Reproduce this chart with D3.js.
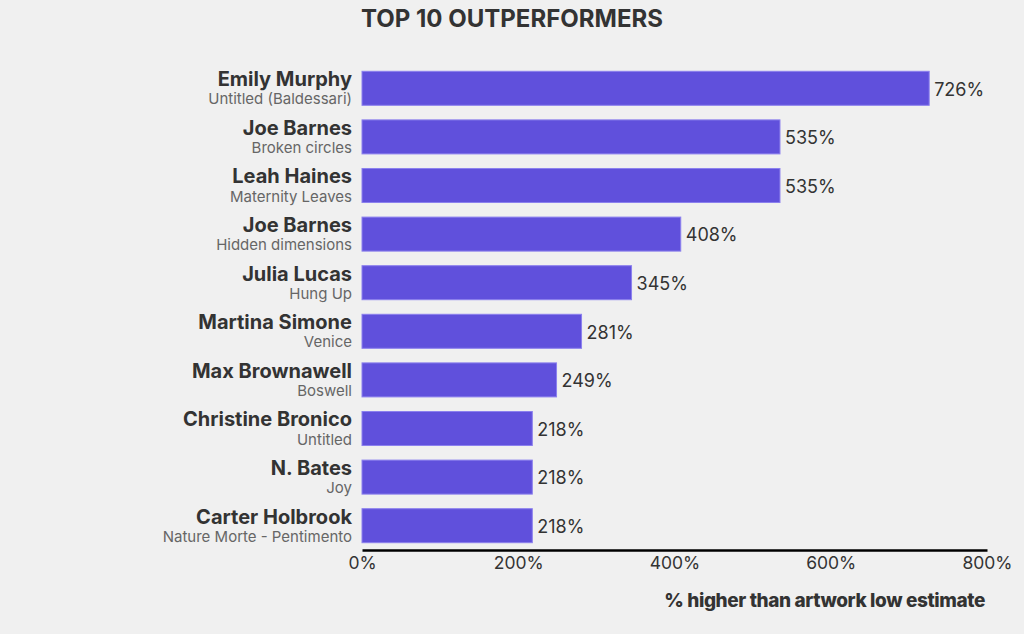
<!DOCTYPE html>
<html>
<head>
<meta charset="utf-8">
<script src="https://cdn.jsdelivr.net/npm/d3@7"></script>
<style>
  body { margin: 0; background: #f0f0f0; font-family: Inter, "Noto Sans", sans-serif; }
  svg { display: block; }
</style>
</head>
<body>
<svg id="chart" width="1024" height="634"></svg>
<script>
const artists = ["Emily Murphy", "Joe Barnes", "Leah Haines", "Joe Barnes", "Julia Lucas",
  "Martina Simone", "Max Brownawell", "Christine Bronico", "N. Bates", "Carter Holbrook"];
const artworks = ["Untitled (Baldessari)", "Broken circles", "Maternity Leaves", "Hidden dimensions",
  "Hung Up", "Venice", "Boswell", "Untitled", "Joy", "Nature Morte - Pentimento"];
const pctAbove = [726, 535, 535, 408, 345, 281, 249, 218, 218, 218];
const xTicks = [0, 200, 400, 600, 800];

const svg = d3.select("#chart");
const margin = { left: 362, right: 37, top: 64, bottom: 84 };
const W = 1024, H = 634;

const rows = pctAbove.map((v, i) => ({ id: i, name: artists[i], work: artworks[i], value: v }));

const x = d3.scaleLinear().domain([0, 800]).range([margin.left, W - margin.right]);
const y = d3.scaleBand()
  .domain(rows.map((d) => d.id))
  .range([margin.top, H - margin.bottom])
  .paddingInner(0.3)
  .paddingOuter(0.15);

svg.append("text")
  .attr("x", 512)
  .attr("y", 27)
  .attr("text-anchor", "middle")
  .style("font-size", "24px")
  .style("font-weight", 700)
  .style("fill", "#333")
  .text("TOP 10 OUTPERFORMERS");

const bars = svg.append("g")
  .selectAll("g")
  .data(rows)
  .enter()
  .append("g");

bars.append("rect")
  .attr("x", x(0))
  .attr("y", (d) => y(d.id))
  .attr("width", (d) => x(d.value) - x(0))
  .attr("height", y.bandwidth())
  .style("fill", "#6050dc")
  .style("stroke", "#8c80ee")
  .style("stroke-width", 1);

bars.append("text")
  .attr("x", (d) => x(d.value) + 5)
  .attr("y", (d) => y(d.id) + y.bandwidth() / 2 + 1)
  .attr("dy", "0.35em")
  .style("font-size", "18px")
  .style("fill", "#333")
  .text((d) => d.value + "%");

bars.append("text")
  .attr("x", x(0) - 10)
  .attr("y", (d) => y(d.id) + 15)
  .attr("text-anchor", "end")
  .style("font-size", "20px")
  .style("font-weight", 700)
  .style("fill", "#333")
  .text((d) => d.name);

bars.append("text")
  .attr("x", x(0) - 10)
  .attr("y", (d) => y(d.id) + y.bandwidth() - 1)
  .attr("text-anchor", "end")
  .style("font-size", "15px")
  .style("fill", "#666")
  .text((d) => d.work);

const axis = svg.append("g")
  .attr("transform", `translate(0, ${H - margin.bottom})`)
  .call(d3.axisBottom(x).tickValues(xTicks).tickSize(0).tickPadding(7).tickFormat((d) => d + "%"));
axis.select(".domain").attr("stroke", "#000").attr("stroke-width", 2.5);
axis.selectAll("text")
  .style("font-family", "Inter, 'Noto Sans', sans-serif")
  .style("font-size", "17.5px")
  .style("fill", "#333");

svg.append("text")
  .attr("x", W - margin.right - 2)
  .attr("y", 607)
  .attr("text-anchor", "end")
  .style("font-size", "19px")
  .style("font-weight", 800)
  .style("letter-spacing", "-0.4px")
  .style("fill", "#333")
  .text("% higher than artwork low estimate");
</script>
</body>
</html>
